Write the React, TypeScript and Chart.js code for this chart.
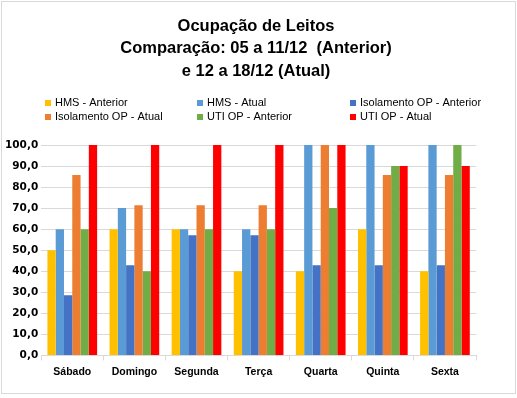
import React, { useEffect, useRef } from "react";
import { Chart, registerables } from "chart.js";

Chart.register(...registerables);

const categories = ["Sábado", "Domingo", "Segunda", "Terça", "Quarta", "Quinta", "Sexta"];
const seriesNames = [
  "HMS - Anterior",
  "HMS - Atual",
  "Isolamento OP - Anterior",
  "Isolamento OP - Atual",
  "UTI OP - Anterior",
  "UTI OP - Atual",
];
const hmsAnterior = [50, 60, 60, 40, 40, 60, 40];
const hmsAtual = [60, 70, 60, 60, 100, 100, 100];
const isoAnterior = [28.6, 42.9, 57.1, 57.1, 42.9, 42.9, 42.9];
const isoAtual = [85.7, 71.4, 71.4, 71.4, 100, 85.7, 85.7];
const utiAnterior = [60, 40, 60, 60, 70, 90, 100];
const utiAtual = [100, 100, 100, 100, 100, 90, 90];
const colors = ["#FFC000", "#5B9BD5", "#4472C4", "#ED7D31", "#70AD47", "#FF0000"];
const titleLines = ["Ocupação de Leitos", "Comparação: 05 a 11/12  (Anterior)", "e 12 a 18/12 (Atual)"];

const seriesValues = [hmsAnterior, hmsAtual, isoAnterior, isoAtual, utiAnterior, utiAtual];

const decorPlugin = {
  id: "decor",
  afterDraw(chart: any) {
    const ctx = chart.ctx as CanvasRenderingContext2D;
    ctx.save();
    // border
    ctx.strokeStyle = "#d9d9d9";
    ctx.lineWidth = 1;
    ctx.strokeRect(1.5, 1.5, 514, 392);
    // title
    ctx.fillStyle = "#000";
    ctx.font = "bold 16.5px 'Liberation Sans'";
    ctx.textAlign = "center";
    ctx.textBaseline = "middle";
    titleLines.forEach((t, i) => ctx.fillText(t, 256, 26 + i * 22.5));
    // legend
    const colX = [45, 197, 350];
    const rowY = [103, 117];
    ctx.font = "11px 'Liberation Sans'";
    ctx.textAlign = "left";
    chart.data.datasets.forEach((ds: any, i: number) => {
      const x = colX[i % 3];
      const y = rowY[Math.floor(i / 3)];
      ctx.fillStyle = ds.backgroundColor;
      ctx.fillRect(x, y - 3, 6, 6);
      ctx.fillStyle = "#000";
      ctx.fillText(ds.label, x + 10, y);
    });
    ctx.restore();
  },
};

export default function App() {
  const ref = useRef<HTMLCanvasElement>(null);
  useEffect(() => {
    const chart = new Chart(ref.current!, {
      type: "bar",
      data: {
        labels: categories,
        datasets: seriesNames.map((name, i) => ({
          label: name,
          data: seriesValues[i],
          backgroundColor: colors[i],
          categoryPercentage: 0.8,
          barPercentage: 1.0,
        })),
      },
      options: {
        animation: false,
        responsive: false,
        layout: { padding: { top: 145, right: 41, left: 2, bottom: 15 } },
        plugins: {
          legend: { display: false },
          title: { display: false },
          tooltip: { enabled: false },
        },
        scales: {
          x: {
            grid: { display: true, drawOnChartArea: false, drawTicks: true, tickLength: 5, color: "#d9d9d9", offset: true },
            border: { display: true, color: "#d9d9d9" },
            ticks: { color: "#000", font: { family: "'Liberation Sans'", weight: "bold", size: 10.5 }, padding: 5 },
          },
          y: {
            min: 0,
            max: 100,
            grid: { color: "#d9d9d9", drawTicks: false },
            border: { display: false },
            ticks: {
              stepSize: 10,
              color: "#000",
              padding: 3,
              font: { family: "'DejaVu Sans'", weight: "bold", size: 10.5 },
              callback: (v: any) => Number(v).toFixed(1).replace(".", ","),
            },
          },
        },
      },
      plugins: [decorPlugin],
    });
    return () => chart.destroy();
  }, []);
  return (
    <div style={{ position: "absolute", left: 0, top: 0, width: 517, height: 398, background: "#fff" }}>
      <canvas ref={ref} width={517} height={398} style={{ display: "block" }} />
    </div>
  );
}
